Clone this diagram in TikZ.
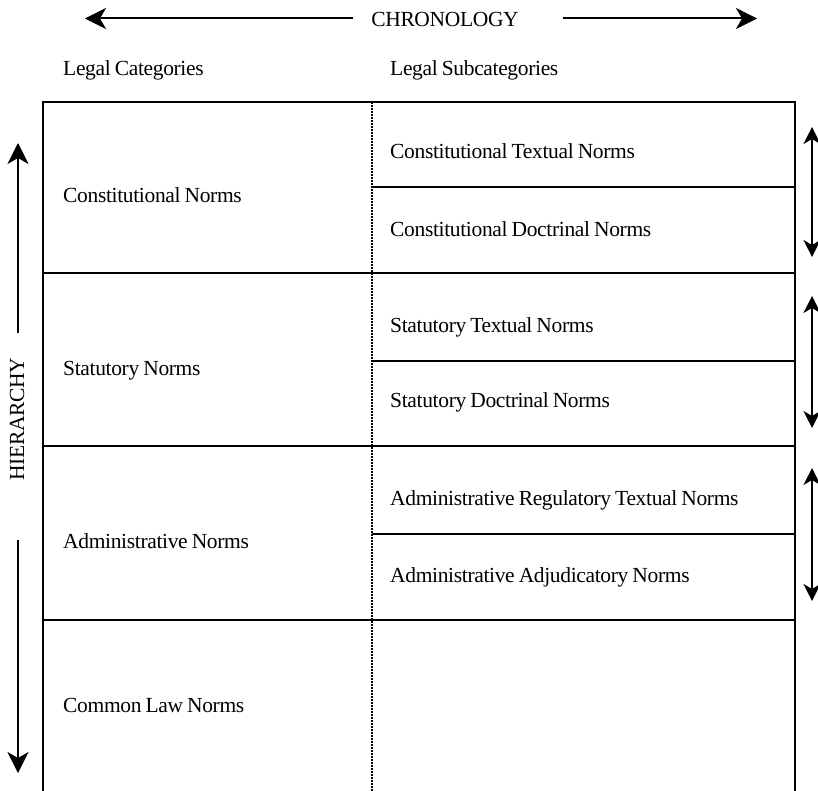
\documentclass[tikz,border=0pt]{standalone}
\usepackage{fontspec}
\setmainfont[LetterSpace=-1.6,WordSpace=0.8]{Liberation Serif}
\usetikzlibrary{arrows.meta}
\begin{document}
\begin{tikzpicture}[x=1pt,y=-1pt,
  lbl/.style={anchor=base west,inner sep=0pt,font=\fontsize{21.5}{25}\selectfont},
  frame/.style={line width=1.8pt,black},
  subline/.style={line width=1.5pt,black},
  divider/.style={line width=1.6pt,dash pattern=on 2pt off 1pt},
  bigarrow/.style={line width=2pt,-{Stealth[length=21pt,width=21pt,inset=6pt]}},
  smallarrow/.style={line width=1.5pt,{Stealth[length=17pt,width=17pt,inset=5pt]}-{Stealth[length=17pt,width=17pt,inset=5pt]}}]
\useasboundingbox (0,0) rectangle (818,791);
% top chronology
\node[inner sep=0pt,anchor=base,font=\fontsize{21.5}{25}\selectfont] (chron) at (445,27) {CHRONOLOGY};
\coordinate (cl1) at (353,18.5);
\coordinate (cl2) at (85,18.5);
\coordinate (cr1) at (563,18.5);
\coordinate (cr2) at (757,18.5);
\draw[bigarrow] (cl1) -- (cl2);
\draw[bigarrow] (cr1) -- (cr2);
% headers
\node[lbl] (hcat) at (63,76) {Legal Categories};
\node[lbl] (hsub) at (390,76) {Legal Subcategories};
% frame
\coordinate (tl) at (43,102);
\coordinate (tr) at (795,102);
\coordinate (bl) at (43,791);
\coordinate (br) at (795,791);
\coordinate (tm) at (372,102);
\coordinate (bm) at (372,791);
\draw[frame] (bl) -- (tl) -- (tr) -- (br);
\draw[divider] (tm) -- (bm);
\foreach \yy in {273,446,620} \draw[frame] (43,\yy) -- (795,\yy);
\foreach \yy in {187,361,534} \draw[subline] (372,\yy) -- (795,\yy);
% categories
\node[lbl] (c1) at (63,203) {Constitutional Norms};
\node[lbl] (c2) at (63,375) {Statutory Norms};
\node[lbl] (c3) at (63,548) {Administrative Norms};
\node[lbl] (c4) at (63,712) {Common Law Norms};
% subcategories
\node[lbl] (s1) at (390,159) {Constitutional Textual Norms};
\node[lbl] (s2) at (390,237) {Constitutional Doctrinal Norms};
\node[lbl] (s3) at (390,332) {Statutory Textual Norms};
\node[lbl] (s4) at (390,407) {Statutory Doctrinal Norms};
\node[lbl] (s5) at (390,505) {Administrative Regulatory Textual Norms};
\node[lbl] (s6) at (390,582) {Administrative Adjudicatory Norms};
% hierarchy
\node[inner sep=0pt,rotate=90,font=\fontsize{21.5}{25}\selectfont] (hier) at (17,419) {HIERARCHY};
\coordinate (hu1) at (18,333);
\coordinate (hu2) at (18,143);
\coordinate (hd1) at (18,540);
\coordinate (hd2) at (18,773);
\draw[bigarrow] (hu1) -- (hu2);
\draw[bigarrow] (hd1) -- (hd2);
% right double arrows
\coordinate (r1a) at (812,127);
\coordinate (r1b) at (812,257);
\coordinate (r2a) at (812,296);
\coordinate (r2b) at (812,428);
\coordinate (r3a) at (812,468);
\coordinate (r3b) at (812,601);
\draw[smallarrow] (r1a) -- (r1b);
\draw[smallarrow] (r2a) -- (r2b);
\draw[smallarrow] (r3a) -- (r3b);
\end{tikzpicture}
\end{document}
